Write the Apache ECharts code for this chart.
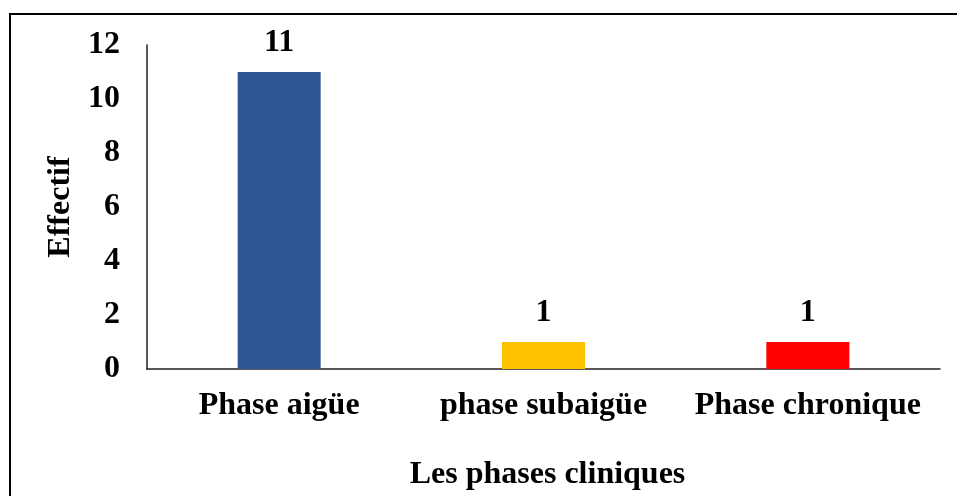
<!DOCTYPE html>
<html>
<head>
<meta charset="utf-8">
<script src="https://cdn.jsdelivr.net/npm/echarts@6/dist/echarts.min.js"></script>
<style>html,body{margin:0;padding:0;background:#fff;}#c{width:957px;height:496px;}</style>
</head>
<body>
<div id="c"></div>
<script>
const categories = ['Phase aigüe', 'phase subaigüe', 'Phase chronique'];
const values = [11, 1, 1];
const barColors = ['#2F5597', '#FFC000', '#FF0000'];
const yTicks = [0, 2, 4, 6, 8, 10, 12];

const FONT = '"Liberation Serif", "Times New Roman", serif';
const FS = 32;
const chart = echarts.init(document.getElementById('c'), null, {renderer: 'canvas'});
chart.setOption({
  animation: false,
  backgroundColor: '#fff',
  graphic: [{
    type: 'rect', shape: {x: 10, y: 14, width: 1200, height: 800},
    style: {fill: 'none', stroke: '#000', lineWidth: 2}, silent: true
  }],
  grid: {left: 147, right: 17, top: 45, bottom: 126, containLabel: false},
  xAxis: {
    type: 'category',
    data: categories,
    name: 'Les phases cliniques',
    nameLocation: 'middle',
    nameGap: 90,
    nameTextStyle: {fontFamily: FONT, fontWeight: 'bold', fontSize: FS, color: '#000', padding: [0, 0, 0, 8]},
    axisLine: {lineStyle: {color: '#222', width: 1.5}},
    axisTick: {show: false},
    axisLabel: {interval: 0, hideOverlap: false, fontFamily: FONT, fontWeight: 'bold', fontSize: FS, color: '#000', margin: 21},
  },
  yAxis: {
    type: 'value',
    min: yTicks[0], max: yTicks[yTicks.length - 1], interval: 2,
    name: 'Effectif',
    nameLocation: 'middle',
    nameGap: 56,
    nameTextStyle: {fontFamily: FONT, fontWeight: 'bold', fontSize: FS, color: '#000'},
    axisLine: {show: true, lineStyle: {color: '#222', width: 1.5}},
    axisTick: {show: false},
    splitLine: {show: false},
    axisLabel: {fontFamily: FONT, fontWeight: 'bold', fontSize: FS, color: '#000', margin: 27, padding: [3, 0, 0, 0]},
  },
  series: [{
    type: 'bar',
    data: values.map((v, i) => ({value: v, itemStyle: {color: barColors[i]}})),
    barWidth: '31.4%',
    label: {show: true, position: 'top', distance: 13, fontFamily: FONT, fontWeight: 'bold', fontSize: FS, color: '#000'}
  }]
});
</script>
</body>
</html>
